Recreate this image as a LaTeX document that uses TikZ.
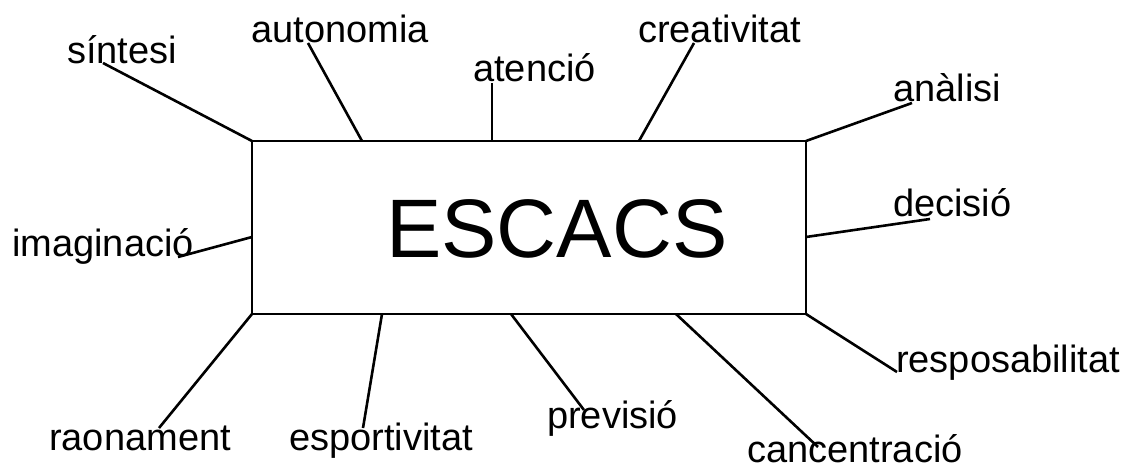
\documentclass[tikz,border=0pt]{standalone}
\usepackage{fontspec}
\setmainfont{Liberation Sans}
\begin{document}
\begin{tikzpicture}[x=1pt,y=-1pt,
  lbl/.style={anchor=base west,inner sep=0pt,font=\fontsize{38}{40}\selectfont},
  link/.style={line width=2.6pt},
  boxstyle/.style={draw,line width=2.6pt,minimum width=554pt,minimum height=173pt,inner sep=0pt,outer sep=0pt}]
\useasboundingbox (0,0) rectangle (1130,470);
\node[boxstyle] (box) at (529,227.5) {};
\node[anchor=base west,inner sep=0pt,font=\fontsize{83}{90}\selectfont] (title) at (386,258) {ESCACS};
% labels
\node[lbl] (sin) at (67,64) {síntesi};
\node[lbl] (aut) at (251,43) {autonomia};
\node[lbl] (ate) at (473,82) {atenció};
\node[lbl] (cre) at (638,43) {creativitat};
\node[lbl] (ana) at (893,102) {anàlisi};
\node[lbl] (ima) at (12,257) {imaginació};
\node[lbl] (dec) at (893,217) {decisió};
\node[lbl] (res) at (896,372) {resposabilitat};
\node[lbl] (rao) at (49,450) {raonament};
\node[lbl] (esp) at (289,450) {esportivitat};
\node[lbl] (pre) at (547,428) {previsió};
\node[lbl] (can) at (747,462) {cancentració};
% connector ends on labels
\coordinate (eSin) at (103,63);
\coordinate (eAut) at (308,43);
\coordinate (eAte) at (492,83);
\coordinate (eCre) at (694,43);
\coordinate (eAna) at (912,103);
\coordinate (eIma) at (178,257);
\coordinate (eDec) at (930,219);
\coordinate (eRao) at (159,428);
\coordinate (eEsp) at (363,428);
\coordinate (ePre) at (584,410);
\coordinate (eCan) at (818,447);
\coordinate (eRes) at (897,372);
% connector ends on box
\coordinate (bAut) at (362,141);
\coordinate (bAte) at (492,141);
\coordinate (bCre) at (639,141);
\coordinate (bIma) at (252,237);
\coordinate (bDec) at (806,237);
\coordinate (bEsp) at (382,314);
\coordinate (bPre) at (511,314);
\coordinate (bCan) at (676,314);
\draw[link] (box.north west) -- (eSin);
\draw[link] (bAut) -- (eAut);
\draw[link] (bAte) -- (eAte);
\draw[link] (bCre) -- (eCre);
\draw[link] (box.north east) -- (eAna);
\draw[link] (bIma) -- (eIma);
\draw[link] (bDec) -- (eDec);
\draw[link] (box.south west) -- (eRao);
\draw[link] (bEsp) -- (eEsp);
\draw[link] (bPre) -- (ePre);
\draw[link] (bCan) -- (eCan);
\draw[link] (box.south east) -- (eRes);
\end{tikzpicture}
\end{document}
